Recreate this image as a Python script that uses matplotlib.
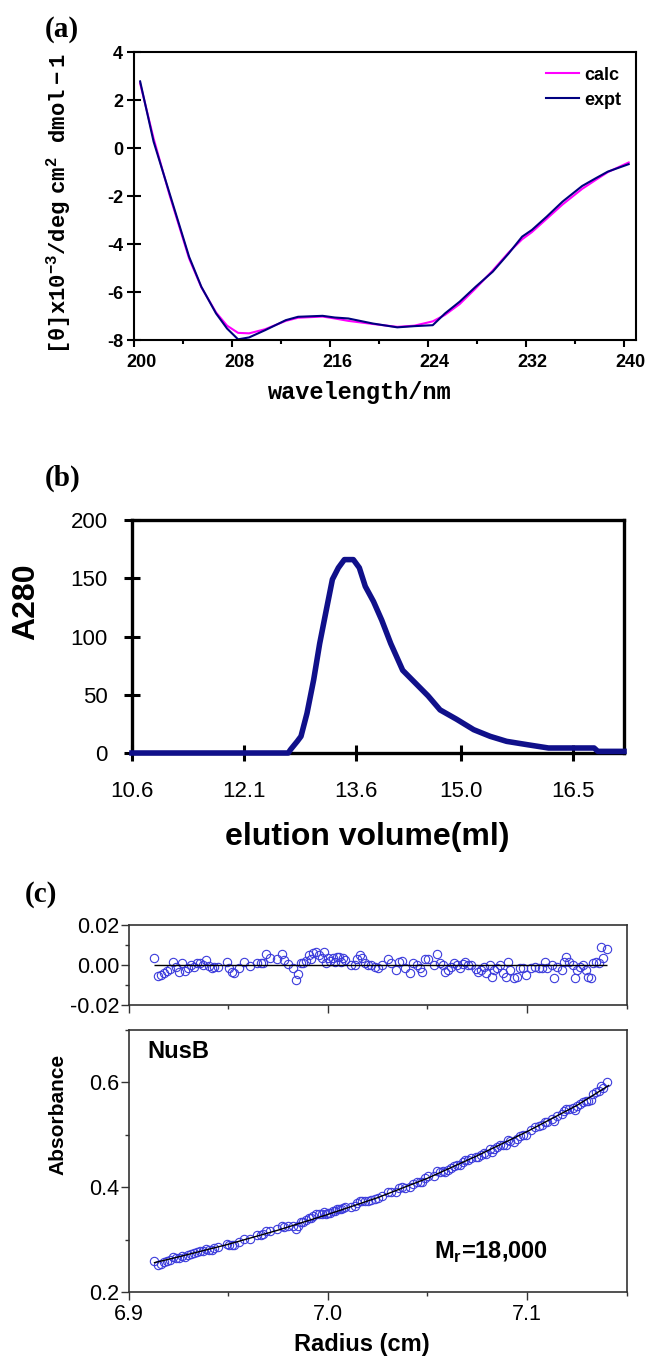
import numpy as np
import matplotlib
matplotlib.use('Agg')
import matplotlib.pyplot as plt
import matplotlib.transforms as mtransforms
from matplotlib.ticker import MultipleLocator, FormatStrFormatter

# ---- (a) CD spectrum ----
wavelength = [200.5, 201.6, 202.9, 204.5, 205.5, 206.7, 207.6, 208.5, 209.4, 210.7,
              212.4, 213.4, 215.4, 216.4, 217.5, 219.5, 221.5, 222.9, 224.4, 225.4,
              226.6, 227.9, 229.3, 230.6, 231.7, 232.5, 233.7, 235.0, 236.6, 237.7,
              238.7, 240.4]
cd_expt = [2.78, 0.27, -1.88, -4.53, -5.78, -6.89, -7.52, -7.97, -7.89, -7.59,
           -7.17, -7.03, -6.99, -7.06, -7.10, -7.31, -7.47, -7.42, -7.38, -6.89,
           -6.40, -5.78, -5.15, -4.39, -3.69, -3.41, -2.86, -2.23, -1.58, -1.26,
           -0.98, -0.67]
cd_calc = [2.70, 0.40, -1.95, -4.60, -5.80, -6.85, -7.40, -7.70, -7.72, -7.55,
           -7.20, -7.07, -7.02, -7.10, -7.20, -7.33, -7.45, -7.40, -7.22, -6.95,
           -6.50, -5.85, -5.10, -4.35, -3.80, -3.50, -2.95, -2.35, -1.70, -1.33,
           -1.00, -0.60]

# ---- (b) gel filtration ----
elution = [10.6, 12.69, 12.72, 12.81, 12.86, 12.94, 13.03, 13.11, 13.19, 13.28,
           13.36, 13.44, 13.56, 13.64, 13.72, 13.83, 13.94, 14.06, 14.22, 14.39,
           14.56, 14.72, 14.94, 15.17, 15.39, 15.61, 15.89, 16.17, 16.5, 16.78,
           16.83, 17.18]
a280 = [0, 0, 2.9, 10, 14.3, 34, 63, 94, 120, 149,
        159, 166, 166, 159, 143, 130, 114, 94, 71, 60,
        49, 37, 29, 20, 14.3, 10, 7.1, 4.3, 4.3, 4.3,
        1.4, 1.4]
elution_ticks = [10.6, 12.1, 13.6, 15.0, 16.5]
elution_labels = ['10.6', '12.1', '13.6', '15.0', '16.5']

# ---- (c) sedimentation equilibrium ----
radius = [6.9129, 6.9146, 6.9163, 6.9177, 6.9194, 6.9208, 6.9225, 6.9240, 6.9254, 6.9267,
          6.9281, 6.9296, 6.9313, 6.9327, 6.9342, 6.9358, 6.9375, 6.9390, 6.9402, 6.9417,
          6.9431, 6.9448, 6.9496, 6.9506, 6.9521, 6.9531, 6.9556, 6.9579, 6.9610, 6.9646,
          6.9663, 6.9677, 6.9688, 6.9708, 6.9746, 6.9771, 6.9781, 6.9802, 6.9827, 6.9838,
          6.9850, 6.9865, 6.9875, 6.9892, 6.9906, 6.9917, 6.9927, 6.9942, 6.9954, 6.9969,
          6.9979, 6.9990, 7.0000, 7.0010, 7.0025, 7.0035, 7.0048, 7.0058, 7.0067, 7.0077,
          7.0088, 7.0115, 7.0135, 7.0146, 7.0160, 7.0173, 7.0188, 7.0204, 7.0219, 7.0235,
          7.0254, 7.0271, 7.0302, 7.0319, 7.0340, 7.0358, 7.0371, 7.0385, 7.0413, 7.0427,
          7.0448, 7.0463, 7.0475, 7.0490, 7.0504, 7.0531, 7.0548, 7.0563, 7.0579, 7.0590,
          7.0604, 7.0619, 7.0631, 7.0646, 7.0663, 7.0677, 7.0688, 7.0704, 7.0719, 7.0746,
          7.0756, 7.0771, 7.0785, 7.0796, 7.0813, 7.0823, 7.0833, 7.0848, 7.0865, 7.0879,
          7.0892, 7.0906, 7.0917, 7.0933, 7.0948, 7.0963, 7.0979, 7.0996, 7.1021, 7.1042,
          7.1058, 7.1073, 7.1088, 7.1100, 7.1125, 7.1135, 7.1150, 7.1177, 7.1188, 7.1198,
          7.1213, 7.1229, 7.1240, 7.1250, 7.1265, 7.1281, 7.1296, 7.1308, 7.1323, 7.1333,
          7.1348, 7.1360, 7.1371, 7.1379, 7.1402]
residual = [0.0033, -0.0055, -0.0050, -0.0038, -0.0030, -0.0022, 0.0017, -0.0008, -0.0033, 0.0008,
            -0.0030, -0.0017, 0.0000, -0.0008, 0.0008, 0.0008, 0.0000, 0.0025, -0.0005, -0.0017,
            -0.0008, -0.0008, 0.0013, -0.0017, -0.0037, -0.0042, -0.0017, 0.0013, -0.0005, 0.0008,
            0.0008, 0.0012, 0.0055, 0.0033, 0.0028, 0.0053, 0.0025, 0.0005, -0.0017, -0.0075,
            -0.0045, 0.0008, 0.0008, 0.0022, 0.0050, 0.0028, 0.0058, 0.0067, 0.0050, 0.0033,
            0.0067, 0.0008, 0.0033, 0.0020, 0.0033, 0.0017, 0.0042, 0.0038, 0.0017, 0.0033,
            0.0025, 0.0000, 0.0000, 0.0028, 0.0050, 0.0033, 0.0008, 0.0000, 0.0000, -0.0008,
            -0.0017, 0.0000, 0.0028, 0.0008, -0.0025, 0.0017, 0.0022, -0.0017, -0.0042, 0.0008,
            0.0000, -0.0017, -0.0033, 0.0028, 0.0028, 0.0000, 0.0055, 0.0008, 0.0000, -0.0033,
            -0.0025, -0.0008, 0.0008, 0.0000, -0.0017, 0.0005, 0.0017, 0.0000, 0.0000, -0.0020,
            -0.0033, -0.0025, -0.0008, -0.0042, 0.0000, -0.0062, -0.0025, -0.0017, 0.0000, -0.0038,
            -0.0058, 0.0017, -0.0025, -0.0067, -0.0058, -0.0017, -0.0017, -0.0050, -0.0017, -0.0008,
            -0.0017, -0.0017, 0.0017, -0.0017, 0.0000, -0.0067, -0.0008, -0.0025, 0.0017, 0.0038,
            0.0017, 0.0000, -0.0067, -0.0025, -0.0008, 0.0000, -0.0025, -0.0058, -0.0067, 0.0008,
            0.0017, 0.0012, 0.0092, 0.0033, 0.0078]
absorbance = [0.259, 0.252, 0.254, 0.257, 0.259, 0.261, 0.266, 0.265, 0.264, 0.269,
              0.267, 0.270, 0.273, 0.274, 0.277, 0.278, 0.279, 0.283, 0.281, 0.281,
              0.284, 0.285, 0.292, 0.290, 0.290, 0.290, 0.295, 0.301, 0.302, 0.308,
              0.309, 0.311, 0.317, 0.317, 0.320, 0.326, 0.324, 0.325, 0.326, 0.321,
              0.326, 0.333, 0.334, 0.337, 0.342, 0.341, 0.345, 0.348, 0.348, 0.348,
              0.352, 0.348, 0.351, 0.351, 0.355, 0.354, 0.358, 0.359, 0.358, 0.361,
              0.362, 0.363, 0.365, 0.370, 0.374, 0.373, 0.373, 0.374, 0.376, 0.377,
              0.379, 0.383, 0.390, 0.391, 0.391, 0.398, 0.400, 0.398, 0.400, 0.407,
              0.409, 0.410, 0.410, 0.418, 0.421, 0.422, 0.431, 0.429, 0.431, 0.429,
              0.432, 0.437, 0.440, 0.442, 0.443, 0.448, 0.451, 0.452, 0.455, 0.457,
              0.458, 0.461, 0.466, 0.464, 0.472, 0.467, 0.473, 0.476, 0.481, 0.480,
              0.480, 0.490, 0.488, 0.487, 0.491, 0.498, 0.500, 0.500, 0.509, 0.514,
              0.516, 0.519, 0.525, 0.524, 0.531, 0.526, 0.535, 0.539, 0.545, 0.549,
              0.550, 0.552, 0.547, 0.554, 0.559, 0.563, 0.565, 0.564, 0.567, 0.577,
              0.581, 0.584, 0.594, 0.590, 0.600]
fit_radius = [6.913, 6.925, 6.950, 6.975, 7.000, 7.025, 7.050, 7.075, 7.100, 7.125, 7.141]
fit_absorbance = [0.256, 0.267, 0.291, 0.318, 0.348, 0.380, 0.417, 0.460, 0.506, 0.556, 0.594]

plt.rcParams['font.family'] = 'Liberation Sans'
plt.rcParams['axes.unicode_minus'] = False
plt.rcParams['mathtext.fontset'] = 'custom'
plt.rcParams['mathtext.tt'] = 'Liberation Mono:bold'
plt.rcParams['mathtext.bf'] = 'Liberation Sans:bold'
plt.rcParams['mathtext.rm'] = 'Liberation Sans'

fig = plt.figure(figsize=(6.48, 13.57), dpi=100)

# ================= (a) =================
axA = fig.add_axes([0.2068, 0.7494, 0.7747, 0.2122])
axA.plot(wavelength, cd_calc, color='#ff00ff', lw=1.5, label='calc')
axA.plot(wavelength, cd_expt, color='#000080', lw=1.5, label='expt')
axA.set_xlim(200, 241)
axA.set_ylim(-8, 4)
axA.set_xticks(np.arange(200, 241, 8))
axA.xaxis.set_minor_locator(MultipleLocator(4))
axA.set_yticks(np.arange(-8, 5, 2))
axA.tick_params(axis='x', which='major', direction='out', length=5, width=1.5, pad=5, labelsize=13)
axA.tick_params(axis='x', which='minor', direction='out', length=3, width=1.5)
axA.tick_params(axis='y', direction='inout', length=9.5, width=1.5, pad=3, labelsize=13)
for lab in axA.get_xticklabels() + axA.get_yticklabels():
    lab.set_fontweight('bold')
shift = mtransforms.ScaledTranslation(0.07, 0, fig.dpi_scale_trans)
for lab in axA.get_xticklabels():
    lab.set_transform(lab.get_transform() + shift)
for s in axA.spines.values():
    s.set_linewidth(1.5)
axA.set_xlabel('wavelength/nm', family='Liberation Mono', weight='bold', fontsize=17)
axA.xaxis.label.set_va('center')
axA.xaxis.set_label_coords(0.45, -0.181)
axA.set_ylabel(r'$\mathtt{[θ]x10^{-3}/deg\ cm^{2}\ \ dmol-1}$', fontsize=16)
axA.yaxis.label.set_va('center')
axA.yaxis.set_label_coords(-0.151, 0.476)
axA.legend(loc='upper right', bbox_to_anchor=(0.985, 0.975), frameon=False,
           prop={'weight': 'bold', 'size': 13}, handlelength=1.8, handletextpad=0.3,
           labelspacing=0.45, borderaxespad=0)

# ================= (b) =================
axB = fig.add_axes([0.2037, 0.4451, 0.7593, 0.1717])
axB.plot(elution, a280, color='#10108a', lw=4, clip_on=False, solid_joinstyle='round', zorder=5)
axB.set_xlim(10.6, 17.18)
axB.set_ylim(0, 200)
axB.set_xticks(elution_ticks)
axB.set_xticklabels(elution_labels)
axB.set_yticks(np.arange(0, 201, 50))
axB.tick_params(axis='x', direction='inout', length=11, width=2.2, pad=15, labelsize=16)
axB.tick_params(axis='y', direction='inout', length=11, width=2.2, pad=12, labelsize=16)
for s in axB.spines.values():
    s.set_linewidth(2.4)
axB.set_xlabel('elution volume(ml)', weight='bold', fontsize=23)
axB.xaxis.label.set_va('center')
axB.xaxis.set_label_coords(0.478, -0.361)
axB.set_ylabel('A280', weight='bold', fontsize=23)
axB.yaxis.label.set_va('center')
axB.yaxis.set_label_coords(-0.215, 0.648)

# ================= (c) =================
circ = dict(ls='none', marker='o', mfc='none', mec='#3c3cdc', ms=6, mew=0.8)

axR = fig.add_axes([0.1985, 0.2594, 0.7685, 0.0590])
axR.plot(radius, residual, **circ)
axR.hlines(0, radius[0], radius[-1], color='black', lw=1, zorder=3)
axR.set_xlim(6.9, 7.15)
axR.set_ylim(-0.02, 0.02)
axR.set_yticks([-0.02, 0.0, 0.02])
axR.yaxis.set_minor_locator(MultipleLocator(0.01))
axR.yaxis.set_major_formatter(FormatStrFormatter('%.2f'))
axR.xaxis.set_major_locator(MultipleLocator(0.1))
axR.xaxis.set_minor_locator(MultipleLocator(0.05))
axR.tick_params(axis='x', labelbottom=False)

axM = fig.add_axes([0.1985, 0.0479, 0.7685, 0.1931])
axM.plot(radius, absorbance, **circ)
axM.plot(fit_radius, fit_absorbance, color='black', lw=1, zorder=3)
axM.set_xlim(6.9, 7.15)
axM.set_ylim(0.2, 0.7)
axM.set_yticks([0.2, 0.4, 0.6])
axM.yaxis.set_minor_locator(MultipleLocator(0.1))
axM.yaxis.set_major_formatter(FormatStrFormatter('%.1f'))
axM.xaxis.set_major_locator(MultipleLocator(0.1))
axM.xaxis.set_minor_locator(MultipleLocator(0.05))
axM.xaxis.set_major_formatter(FormatStrFormatter('%.1f'))

for ax in (axR, axM):
    ax.tick_params(which='major', direction='out', length=5.5, width=1, pad=1, labelsize=15.5, color='#333333')
    ax.tick_params(which='minor', direction='out', length=3, width=1, color='#333333')
    ax.tick_params(axis='x', pad=3)
    for s in ax.spines.values():
        s.set_linewidth(1.2)
        s.set_color('#333333')

axM.set_xlabel('Radius (cm)', weight='bold', fontsize=17)
axM.xaxis.label.set_va('center')
axM.xaxis.set_label_coords(0.469, -0.202)
axM.set_ylabel('Absorbance', weight='bold', fontsize=15)
axM.yaxis.label.set_va('center')
axM.yaxis.set_label_coords(-0.142, 0.676)
axM.text(0.037, 0.916, 'NusB', transform=axM.transAxes, weight='bold', fontsize=17, va='center')
axM.text(0.613, 0.153, r'M$_\mathbf{r}$=18,000', transform=axM.transAxes, weight='bold',
         fontsize=17, va='center')

# panel letters
for x, y, t in [(0.096, 0.9786, '(a)'), (0.097, 0.6478, '(b)'), (0.063, 0.341, '(c)')]:
    fig.text(x, y, t, family='Liberation Serif', weight='bold', fontsize=21, ha='center', va='center')

fig.savefig('out.png', dpi=100)
